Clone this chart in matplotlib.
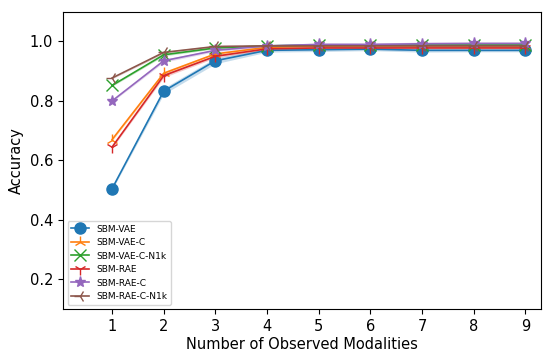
import numpy as np
import matplotlib
matplotlib.use("Agg")
from matplotlib import pyplot as plt

plt.rcParams['font.size'] = 10.5

modalities = [1, 2, 3, 4, 5, 6, 7, 8, 9]

names = ['SBM-VAE', 'SBM-VAE-C', 'SBM-VAE-C-N1k', 'SBM-RAE', 'SBM-RAE-C', 'SBM-RAE-C-N1k']
markers = ['o', '2', 'x', '1', '*', '3']

vae = [0.505, 0.833, 0.935, 0.970, 0.972, 0.974, 0.970, 0.970, 0.970]
vae_c = [0.670, 0.893, 0.958, 0.980, 0.984, 0.985, 0.985, 0.985, 0.985]
vae_c_n1k = [0.852, 0.955, 0.978, 0.985, 0.988, 0.988, 0.988, 0.988, 0.988]
rae = [0.645, 0.885, 0.950, 0.975, 0.978, 0.978, 0.978, 0.978, 0.978]
rae_c = [0.800, 0.935, 0.970, 0.985, 0.990, 0.990, 0.992, 0.993, 0.993]
rae_c_n1k = [0.877, 0.963, 0.983, 0.985, 0.985, 0.985, 0.985, 0.985, 0.985]

# spread of the runs (shaded band)
vae_std = [0.004, 0.010, 0.010, 0.006, 0.006, 0.005, 0.006, 0.005, 0.005]
vae_c_std = [0.004, 0.006, 0.005, 0.004, 0.004, 0.004, 0.004, 0.004, 0.004]
vae_c_n1k_std = [0.003, 0.004, 0.003, 0.003, 0.003, 0.003, 0.003, 0.003, 0.003]
rae_std = [0.004, 0.006, 0.005, 0.004, 0.004, 0.004, 0.004, 0.004, 0.004]
rae_c_std = [0.003, 0.005, 0.004, 0.004, 0.004, 0.004, 0.006, 0.006, 0.006]
rae_c_n1k_std = [0.003, 0.004, 0.003, 0.003, 0.004, 0.004, 0.005, 0.005, 0.005]

series = [vae, vae_c, vae_c_n1k, rae, rae_c, rae_c_n1k]
stds = [vae_std, vae_c_std, vae_c_n1k_std, rae_std, rae_c_std, rae_c_n1k_std]

fig = plt.figure(figsize=(5.43, 3.53), dpi=100)
ax = fig.add_axes([0.116, 0.124, 0.88, 0.843])

x = np.array(modalities)
for i in range(len(names)):
	m = np.array(series[i])
	s = np.array(stds[i])
	col = 'C%d' % i
	ms = 8 if markers[i] in ('o', '*') else 9
	ax.plot(x, m, color=col, marker=markers[i], markersize=ms, linewidth=1.2, label=names[i])
	ax.fill_between(x, m - s, m + s, color=col, alpha=0.25, linewidth=0)

ax.set_xlim(0.05, 9.3)
ax.set_ylim(0.1, 1.1)
ax.set_xticks(modalities)
ax.set_yticks([0.2, 0.4, 0.6, 0.8, 1.0])
ax.set_xlabel('Number of Observed Modalities', labelpad=2)
ax.set_ylabel('Accuracy')
ax.legend(loc='lower left', fontsize=6.5)

fig.savefig('out.png', dpi=100)
